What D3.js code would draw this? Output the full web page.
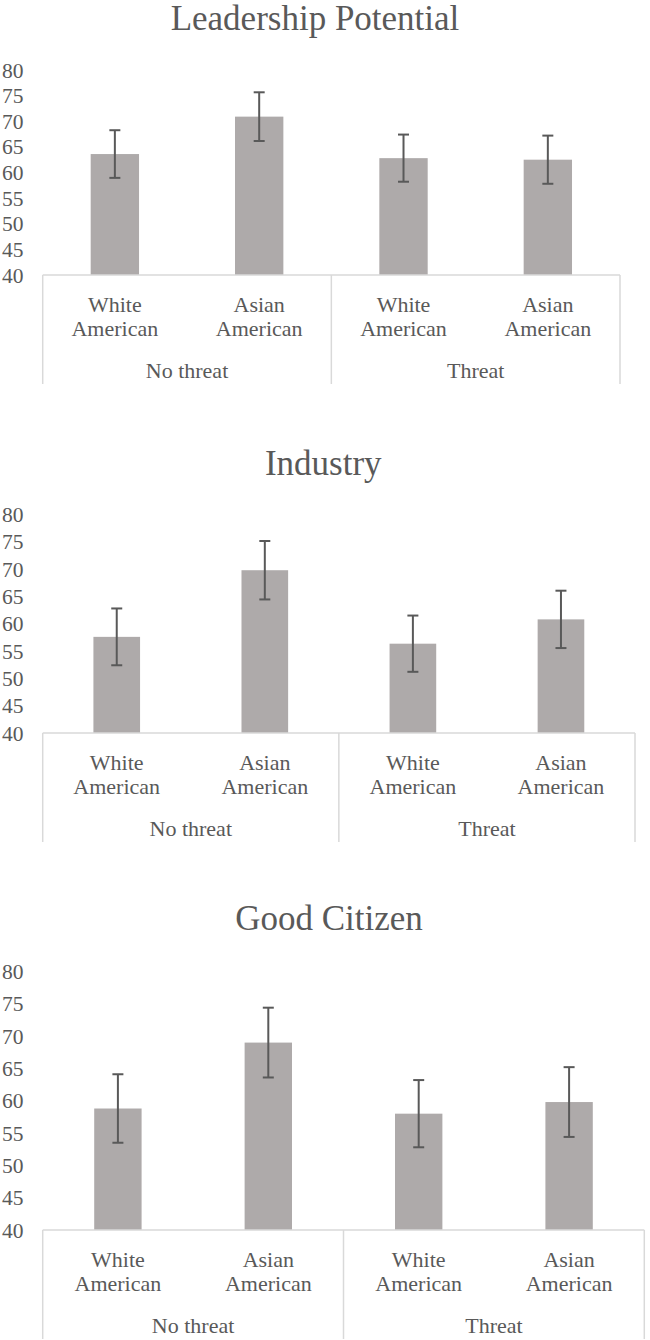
<!DOCTYPE html>
<html>
<head>
<meta charset="utf-8">
<script src="https://cdn.jsdelivr.net/npm/d3@7"></script>
<style>
  html, body { margin: 0; padding: 0; background: #fff; }
  svg { display: block; }
  svg text { font-family: "Liberation Serif" !important; }
</style>
</head>
<body>
<svg id="chart" width="650" height="1340"></svg>
<script>
// ---- data ----
const titles = ["Leadership Potential", "Industry", "Good Citizen"];
const groups = ["No threat", "Threat"];
const categories = ["White American", "Asian American", "White American", "Asian American"];
const categoryGroup = [0, 0, 1, 1];
const leadershipMeans = [63.6, 70.9, 62.8, 62.5];
const leadershipErrors = [4.65, 4.75, 4.6, 4.7];
const industryMeans = [57.6, 69.8, 56.35, 60.8];
const industryErrors = [5.2, 5.35, 5.15, 5.25];
const citizenMeans = [58.8, 69.0, 58.0, 59.8];
const citizenErrors = [5.3, 5.4, 5.2, 5.4];
const yTicks = [40, 45, 50, 55, 60, 65, 70, 75, 80];
const yDomain = [40, 80];

// ---- layout ----
const panels = [
  { title: titles[0], means: leadershipMeans, errs: leadershipErrors, titleX: 315, titleY: 29.5, yTop: 70, yBottom: 275, xLeft: 42.7, xRight: 620, barRatio: 0.335 },
  { title: titles[1], means: industryMeans, errs: industryErrors, titleX: 323.3, titleY: 475, yTop: 514.5, yBottom: 733, xLeft: 42.7, xRight: 635, barRatio: 0.315 },
  { title: titles[2], means: citizenMeans, errs: citizenErrors, titleX: 329, titleY: 930, yTop: 971.5, yBottom: 1230, xLeft: 42.7, xRight: 644.3, barRatio: 0.315 }
];

const svg = d3.select("#chart");
const textColor = "#595959";
const barColor = "#aeaaaa";
const errColor = "#595959";
const gridColor = "#d9d9d9";

function label(sel) {
  return sel.style("font-family", "Liberation Serif").attr("fill", textColor);
}

panels.forEach((p, pi) => {
  const g = svg.append("g").attr("class", "panel-" + pi);
  const y = d3.scaleLinear().domain(yDomain).range([p.yBottom, p.yTop]);
  const x = d3.scaleBand().domain(d3.range(categories.length)).range([p.xLeft, p.xRight]).paddingInner(0).paddingOuter(0);
  const bw = x.bandwidth() * p.barRatio;

  // title
  label(g.append("text"))
    .attr("x", p.titleX).attr("y", p.titleY)
    .attr("text-anchor", "middle")
    .style("font-size", "35px")
    .text(p.title);

  // y tick labels
  label(g.selectAll(".ytick").data(yTicks).enter().append("text"))
    .attr("class", "ytick")
    .attr("x", 23.5)
    .attr("y", d => y(d))
    .attr("dy", "0.35em")
    .attr("text-anchor", "end")
    .style("font-size", "21.5px")
    .text(d => d);

  // bars
  g.selectAll(".bar").data(p.means).enter().append("rect")
    .attr("class", "bar")
    .attr("x", (d, i) => x(i) + (x.bandwidth() - bw) / 2)
    .attr("y", d => y(d))
    .attr("width", bw)
    .attr("height", d => y(yDomain[0]) - y(d))
    .attr("fill", barColor);

  // error bars
  const cap = 5.5;
  p.means.forEach((m, i) => {
    const cx = x(i) + x.bandwidth() / 2;
    const e = p.errs[i];
    g.append("line").attr("x1", cx).attr("x2", cx).attr("y1", y(m + e)).attr("y2", y(m - e))
      .attr("stroke", errColor).attr("stroke-width", 2);
    [m + e, m - e].forEach(v => {
      g.append("line").attr("x1", cx - cap).attr("x2", cx + cap).attr("y1", y(v)).attr("y2", y(v))
        .attr("stroke", errColor).attr("stroke-width", 2);
    });
  });

  // category box lines
  const base = y(yDomain[0]);
  const boxH = 109;
  g.append("line").attr("x1", p.xLeft).attr("x2", p.xRight).attr("y1", base).attr("y2", base)
    .attr("stroke", gridColor).attr("stroke-width", 1.5);
  const mid = x(2);
  [p.xLeft, mid, p.xRight].forEach(xx => {
    g.append("line").attr("x1", xx).attr("x2", xx).attr("y1", base).attr("y2", base + boxH)
      .attr("stroke", gridColor).attr("stroke-width", 1.5);
  });

  // category labels
  categories.forEach((c, i) => {
    const cx = x(i) + x.bandwidth() / 2;
    const words = c.split(" ");
    const t = label(g.append("text")).attr("text-anchor", "middle").style("font-size", "22px");
    words.forEach((w, wi) => {
      t.append("tspan").attr("x", cx).attr("y", base + 36.5 + wi * 24.8).text(w);
    });
  });

  // group labels
  groups.forEach((gr, gi) => {
    const idx = categoryGroup.map((v, i) => v === gi ? i : -1).filter(i => i >= 0);
    const x0 = x(idx[0]);
    const x1 = x(idx[idx.length - 1]) + x.bandwidth();
    label(g.append("text"))
      .attr("x", (x0 + x1) / 2)
      .attr("y", base + 103)
      .attr("text-anchor", "middle")
      .style("font-size", "22px")
      .text(gr);
  });
});
</script>
</body>
</html>
